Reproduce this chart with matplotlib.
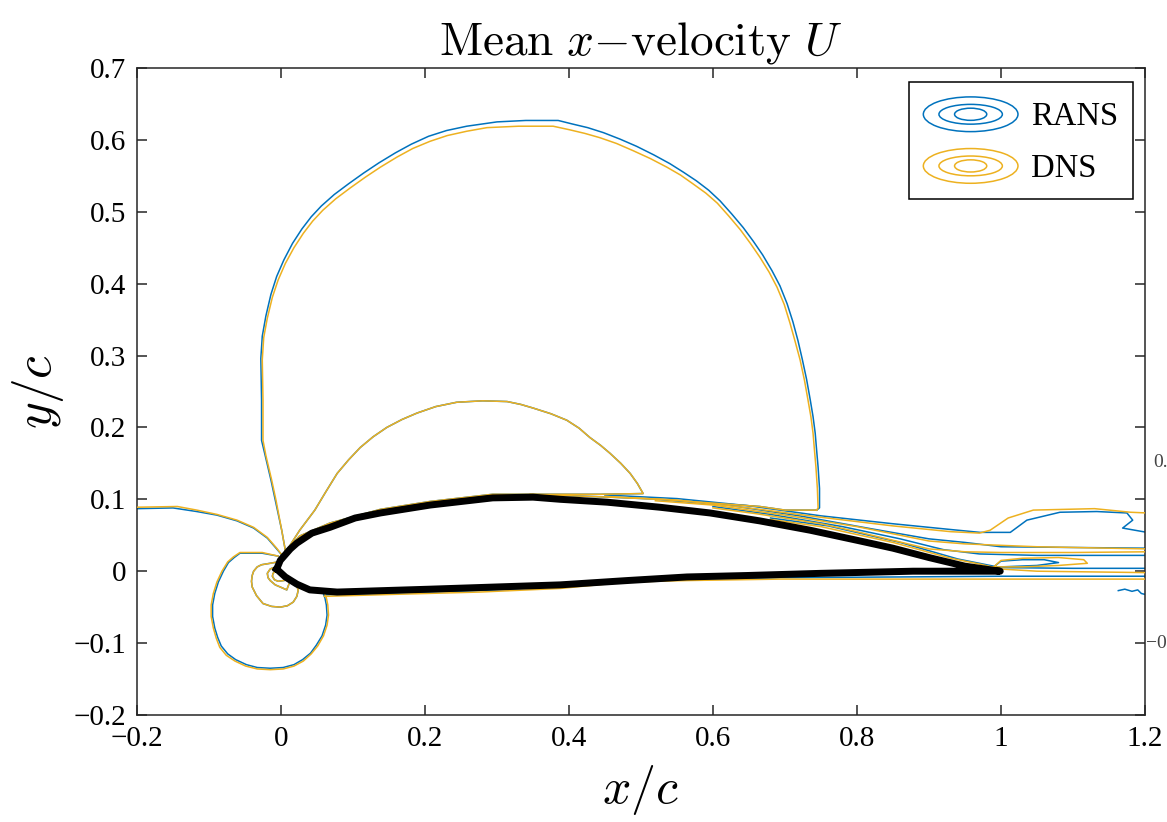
import numpy as np
import matplotlib
matplotlib.use("Agg")
import matplotlib.pyplot as plt
from matplotlib.patches import Ellipse
from matplotlib.legend_handler import HandlerBase
from matplotlib.lines import Line2D
from matplotlib.ticker import FuncFormatter

plt.rcParams['font.family'] = ['Liberation Serif', 'DejaVu Serif']
plt.rcParams['mathtext.fontset'] = 'cm'

BLUE = '#0072BD'
ORANGE = '#EDB120'

# airfoil outline (x/c, y/c), upper surface LE->TE then lower surface TE->LE
airfoil = [(-0.006, 0.003), (-0.001, 0.015), (0.013, 0.031), (0.022, 0.039), (0.043, 0.053),
           (0.068, 0.061), (0.103, 0.074), (0.138, 0.081), (0.207, 0.092), (0.294, 0.102),
           (0.350, 0.103), (0.388, 0.100), (0.453, 0.096), (0.526, 0.089), (0.596, 0.081),
           (0.665, 0.070), (0.735, 0.057), (0.800, 0.043), (0.850, 0.032), (0.900, 0.019),
           (0.950, 0.007), (0.999, 0.000), (0.878, 0.000), (0.749, -0.003), (0.647, -0.006),
           (0.564, -0.008), (0.481, -0.013), (0.388, -0.019), (0.207, -0.025), (0.078, -0.029),
           (0.040, -0.026), (0.022, -0.018), (0.006, -0.008), (-0.006, 0.003)]

# line hugging the upper surface, back towards the leading edge
surface_return = [(0.744, 0.085), (0.700, 0.085), (0.665, 0.090), (0.582, 0.096), (0.526, 0.100),
                  (0.457, 0.103), (0.346, 0.107), (0.294, 0.107), (0.207, 0.097), (0.138, 0.086),
                  (0.068, 0.067), (0.026, 0.049), (0.010, 0.032), (0.006, 0.029)]

# DNS contours
dns_big = [(0.006, 0.029), (0.001, 0.057), (-0.007, 0.099), (-0.013, 0.127), (-0.021, 0.161),
           (-0.025, 0.182), (-0.025, 0.238), (-0.026, 0.294), (-0.024, 0.325), (-0.019, 0.352),
           (-0.012, 0.381), (-0.004, 0.405), (0.006, 0.428), (0.018, 0.450), (0.031, 0.470),
           (0.044, 0.487), (0.058, 0.502), (0.076, 0.518), (0.096, 0.533), (0.117, 0.548),
           (0.138, 0.562), (0.161, 0.576), (0.183, 0.588), (0.207, 0.598), (0.231, 0.606),
           (0.258, 0.612), (0.286, 0.617), (0.330, 0.619), (0.378, 0.619), (0.401, 0.614),
           (0.422, 0.609), (0.443, 0.603), (0.466, 0.595), (0.489, 0.585), (0.513, 0.574),
           (0.536, 0.562), (0.555, 0.551), (0.572, 0.539), (0.590, 0.526), (0.606, 0.512),
           (0.622, 0.494), (0.638, 0.475), (0.652, 0.456), (0.665, 0.437), (0.678, 0.416),
           (0.689, 0.395), (0.699, 0.371), (0.707, 0.345), (0.714, 0.320), (0.721, 0.294),
           (0.727, 0.266), (0.732, 0.238), (0.736, 0.215), (0.739, 0.192), (0.741, 0.168),
           (0.743, 0.145), (0.745, 0.115), (0.746, 0.088), (0.744, 0.085)]
dns_small = [(0.010, 0.032), (0.026, 0.057), (0.047, 0.085), (0.062, 0.110), (0.078, 0.136),
             (0.094, 0.155), (0.110, 0.172), (0.128, 0.187), (0.147, 0.200), (0.168, 0.211),
             (0.189, 0.220), (0.215, 0.229), (0.244, 0.235), (0.280, 0.237), (0.314, 0.236),
             (0.333, 0.232), (0.350, 0.227), (0.375, 0.219), (0.397, 0.210), (0.414, 0.199),
             (0.429, 0.186), (0.444, 0.175), (0.457, 0.164), (0.472, 0.150), (0.485, 0.136),
             (0.495, 0.122), (0.503, 0.108), (0.443, 0.107), (0.346, 0.107)]
dns_left = [(-0.200, 0.089), (-0.144, 0.090), (-0.117, 0.085), (-0.089, 0.079), (-0.061, 0.071),
            (-0.038, 0.061), (-0.019, 0.047), (-0.006, 0.032), (0.004, 0.019)]
dns_circle = [(-0.004, 0.021), (-0.026, 0.026), (-0.057, 0.026), (-0.066, 0.020), (-0.074, 0.013),
              (-0.082, 0.000), (-0.089, -0.015), (-0.094, -0.031), (-0.097, -0.047),
              (-0.097, -0.063), (-0.094, -0.079), (-0.090, -0.093), (-0.085, -0.106),
              (-0.076, -0.117), (-0.064, -0.125), (-0.049, -0.132), (-0.033, -0.136),
              (-0.015, -0.137), (0.003, -0.136), (0.018, -0.132), (0.031, -0.125),
              (0.042, -0.115), (0.051, -0.104), (0.059, -0.090), (0.064, -0.075),
              (0.066, -0.061), (0.065, -0.047), (0.063, -0.037), (0.060, -0.029)]
dns_loop2 = [(-0.004, 0.013), (-0.015, 0.011), (-0.027, 0.009), (-0.033, 0.006), (-0.038, 0.000),
             (-0.040, -0.006), (-0.041, -0.014), (-0.040, -0.022), (-0.034, -0.034),
             (-0.025, -0.045), (-0.013, -0.049), (-0.001, -0.050), (0.009, -0.048),
             (0.017, -0.043), (0.022, -0.035), (0.024, -0.026), (0.021, -0.019)]
dns_loop3 = [(-0.006, 0.007), (-0.015, 0.003), (-0.019, -0.003), (-0.018, -0.009), (-0.015, -0.013),
             (-0.008, -0.019), (-0.001, -0.022), (0.008, -0.026), (0.011, -0.018)]
dns_loop4 = [(-0.007, 0.001), (-0.011, -0.003), (-0.012, -0.007), (-0.009, -0.012),
             (-0.004, -0.014), (0.004, -0.013)]
dns_lower = [(0.060, -0.035), (0.165, -0.032), (0.276, -0.029), (0.388, -0.024), (0.481, -0.015),
             (0.564, -0.013), (0.693, -0.011), (0.860, -0.011), (1.203, -0.011)]
dns_wake1 = [(0.450, 0.104), (0.550, 0.099), (0.650, 0.088), (0.750, 0.075), (0.850, 0.063),
             (0.930, 0.055), (0.970, 0.053), (0.985, 0.057), (1.010, 0.074), (1.045, 0.085),
             (1.130, 0.087), (1.180, 0.082), (1.203, 0.081)]
dns_wake2 = [(0.520, 0.098), (0.600, 0.092), (0.700, 0.078), (0.800, 0.062), (0.900, 0.042),
             (0.950, 0.038), (1.000, 0.036), (1.050, 0.034), (1.100, 0.033), (1.203, 0.031)]
dns_wake3 = [(0.600, 0.088), (0.660, 0.080), (0.750, 0.066), (0.800, 0.055), (0.900, 0.031),
             (0.950, 0.027), (1.000, 0.026), (1.100, 0.026), (1.203, 0.027)]
dns_wake4 = [(0.990, 0.006), (1.000, 0.015), (1.030, 0.018), (1.080, 0.019), (1.115, 0.016),
             (1.120, 0.011), (1.080, 0.008), (1.030, 0.006), (0.990, 0.006)]
dns_wake5 = [(0.680, 0.072), (0.750, 0.062), (0.850, 0.040), (0.930, 0.018), (0.970, 0.010),
             (1.000, 0.003), (1.050, 0.000), (1.203, -0.002)]

# RANS contours
rans_big = [(0.006, 0.029), (0.001, 0.057), (-0.008, 0.099), (-0.014, 0.127), (-0.022, 0.161),
            (-0.027, 0.182), (-0.027, 0.238), (-0.028, 0.296), (-0.026, 0.327), (-0.021, 0.355),
            (-0.014, 0.385), (-0.006, 0.410), (0.004, 0.433), (0.016, 0.456), (0.029, 0.476),
            (0.042, 0.493), (0.056, 0.508), (0.074, 0.524), (0.094, 0.539), (0.115, 0.554),
            (0.136, 0.568), (0.159, 0.582), (0.181, 0.594), (0.205, 0.605), (0.230, 0.613),
            (0.258, 0.619), (0.300, 0.625), (0.340, 0.627), (0.385, 0.627), (0.405, 0.622),
            (0.426, 0.617), (0.448, 0.610), (0.471, 0.601), (0.494, 0.591), (0.518, 0.579),
            (0.540, 0.567), (0.559, 0.555), (0.577, 0.543), (0.594, 0.530), (0.610, 0.515),
            (0.626, 0.497), (0.642, 0.478), (0.656, 0.459), (0.669, 0.440), (0.682, 0.418),
            (0.693, 0.397), (0.703, 0.372), (0.711, 0.347), (0.718, 0.321), (0.724, 0.295),
            (0.730, 0.267), (0.735, 0.239), (0.739, 0.215), (0.742, 0.192), (0.744, 0.168),
            (0.746, 0.145), (0.748, 0.115), (0.748, 0.088), (0.744, 0.085)]
rans_left = [(-0.200, 0.087), (-0.150, 0.088), (-0.117, 0.083), (-0.089, 0.078), (-0.061, 0.070),
             (-0.038, 0.060), (-0.019, 0.046), (-0.006, 0.031), (0.004, 0.019)]
rans_circle = [(-0.004, 0.021), (-0.026, 0.025), (-0.057, 0.025), (-0.065, 0.019), (-0.073, 0.012),
               (-0.080, 0.000), (-0.087, -0.015), (-0.092, -0.031), (-0.095, -0.047),
               (-0.095, -0.063), (-0.092, -0.079), (-0.088, -0.092), (-0.083, -0.104),
               (-0.074, -0.115), (-0.063, -0.123), (-0.048, -0.130), (-0.033, -0.134),
               (-0.015, -0.135), (0.003, -0.134), (0.018, -0.130), (0.030, -0.123),
               (0.041, -0.114), (0.049, -0.103), (0.057, -0.090), (0.062, -0.075),
               (0.064, -0.061), (0.063, -0.047), (0.061, -0.037), (0.058, -0.029)]
rans_lower = [(0.060, -0.033), (0.165, -0.030), (0.276, -0.027), (0.388, -0.021), (0.481, -0.013),
              (0.564, -0.011), (0.693, -0.009), (0.860, -0.008), (1.000, -0.007), (1.203, -0.007)]
rans_wake1 = [(0.450, 0.106), (0.550, 0.101), (0.650, 0.091), (0.750, 0.077), (0.850, 0.066),
              (0.930, 0.058), (0.971, 0.054), (1.013, 0.054), (1.036, 0.071), (1.082, 0.082),
              (1.133, 0.083), (1.175, 0.081), (1.183, 0.071), (1.169, 0.060), (1.203, 0.054)]
rans_wake2 = [(0.520, 0.100), (0.620, 0.092), (0.720, 0.077), (0.820, 0.059), (0.900, 0.045),
              (0.950, 0.040), (1.000, 0.034), (1.100, 0.033), (1.203, 0.032)]
rans_wake3 = [(0.600, 0.090), (0.680, 0.079), (0.780, 0.062), (0.860, 0.045), (0.920, 0.030),
              (0.970, 0.024), (1.050, 0.022), (1.203, 0.022)]
rans_wake4 = [(0.990, 0.006), (1.000, 0.014), (1.030, 0.016), (1.060, 0.016), (1.080, 0.012),
              (1.050, 0.008), (1.000, 0.006), (0.990, 0.006)]
rans_wake5 = [(0.680, 0.074), (0.760, 0.063), (0.860, 0.040), (0.940, 0.017), (0.980, 0.009),
              (1.000, 0.005), (1.100, 0.004), (1.203, 0.004)]
rans_wiggle = [(1.163, -0.027), (1.172, -0.025), (1.182, -0.028), (1.190, -0.026),
               (1.195, -0.031), (1.203, -0.033)]

xticks = [-0.2, 0, 0.2, 0.4, 0.6, 0.8, 1, 1.2]
yticks = [-0.2, -0.1, 0, 0.1, 0.2, 0.3, 0.4, 0.5, 0.6, 0.7]

rans_curves = [rans_big, surface_return, dns_small, rans_left, rans_circle, dns_loop2, dns_loop3,
               dns_loop4, rans_lower, rans_wake1, rans_wake2, rans_wake3, rans_wake4, rans_wake5,
               rans_wiggle]
dns_curves = [dns_big, surface_return, dns_small, dns_left, dns_circle, dns_loop2, dns_loop3,
              dns_loop4, dns_lower, dns_wake1, dns_wake2, dns_wake3, dns_wake4, dns_wake5]


class ContourHandler(HandlerBase):
    def create_artists(self, legend, orig_handle, xdescent, ydescent, width, height,
                       fontsize, trans):
        color = orig_handle.get_color()
        cx = -xdescent + width / 2
        cy = -ydescent + height / 2
        arts = []
        for fw, fh in [(1.0, 1.0), (0.67, 0.57), (0.34, 0.35)]:
            arts.append(Ellipse((cx, cy), width * fw, height * fh, fill=False,
                                edgecolor=color, lw=1.1, transform=trans))
        return arts


fig = plt.figure(figsize=(11.67, 8.22), dpi=100)
ax = fig.add_axes([0.1174, 0.1302, 0.8637, 0.7871])

for c in rans_curves:
    a = np.array(c)
    ax.plot(a[:, 0], a[:, 1], color=BLUE, lw=1.1, zorder=2)
for c in dns_curves:
    a = np.array(c)
    ax.plot(a[:, 0], a[:, 1], color=ORANGE, lw=1.1, zorder=3)

af = np.array(airfoil)
ax.plot(af[:, 0], af[:, 1], color='black', lw=5, solid_joinstyle='round', zorder=5)

ax.set_xlim(-0.2, 1.2)
ax.set_ylim(-0.2, 0.7)
ax.set_xticks(xticks)
ax.set_yticks(yticks)
fmt = FuncFormatter(lambda v, p: ('%g' % round(v, 2)).replace('-', '\u2212'))
ax.xaxis.set_major_formatter(fmt)
ax.yaxis.set_major_formatter(fmt)
ax.tick_params(direction='in', length=7, width=1.1, labelsize=21, top=True, right=True,
               colors='#262626', labelcolor='black', pad=8)
for s in ax.spines.values():
    s.set_linewidth(1.1)
    s.set_color('#262626')

ax.set_title(r'$\mathrm{Mean}\ x{-}\mathrm{velocity}\ U$', fontsize=34, pad=10)
ax.set_xlabel(r'$x/c$', fontsize=36, labelpad=8)
ax.set_ylabel(r'$y/c$', fontsize=37, labelpad=5)

handles = [Line2D([], [], color=BLUE), Line2D([], [], color=ORANGE)]
leg = ax.legend(handles, ['RANS', 'DNS'], handler_map={Line2D: ContourHandler()},
                loc='upper right', bbox_to_anchor=(0.988, 0.978), borderaxespad=0,
                fontsize=23.5, handlelength=2.9, handleheight=1.26, handletextpad=0.4,
                labelspacing=0.5, borderpad=0.45, fancybox=False, framealpha=1)
leg.get_frame().set_edgecolor('black')
leg.get_frame().set_linewidth(1.1)

# clipped tick labels of a neighbouring panel at the right edge
fig.text(1153 / 1167, 1 - 462 / 822, '0.', fontsize=14, color='#444444', va='center')
fig.text(1146 / 1167, 1 - 643 / 822, '\u22120', fontsize=14, color='#444444', va='center')

fig.savefig('out.png', dpi=100)
